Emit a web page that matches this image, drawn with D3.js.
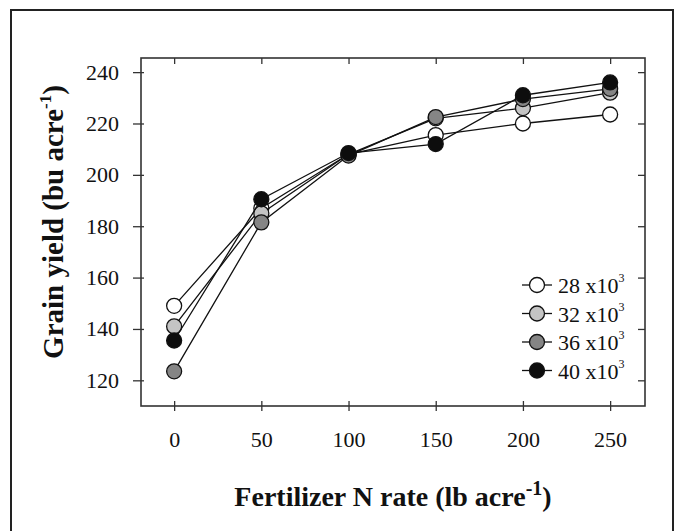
<!DOCTYPE html>
<html>
<head>
<meta charset="utf-8">
<script src="https://cdn.jsdelivr.net/npm/d3@7"></script>
<style>
  html, body { margin: 0; padding: 0; background: #fff; }
  svg { display: block; }
  text { font-family: "Liberation Serif", "Times New Roman", serif; fill: #111; }
</style>
</head>
<body>
<svg id="chart" width="679" height="531"></svg>
<script>
// ---- data ----
const nRates = [0, 50, 100, 150, 200, 250];
const seriesNames = ["28", "32", "36", "40"];
const yield28 = [149, 187, 208, 215.5, 220, 223.5];
const yield32 = [141, 185, 208, 222, 226, 232];
const yield36 = [123.5, 181.5, 207.5, 222.5, 229.5, 233.5];
const yield40 = [135.5, 190.5, 208.5, 212, 231, 236];
const seriesFills = ["#ffffff", "#c4c4c4", "#858585", "#0d0d0d"];
const xTicks = [0, 50, 100, 150, 200, 250];
const yTicks = [120, 140, 160, 180, 200, 220, 240];

const series = [yield28, yield32, yield36, yield40].map((vals, i) => ({
  name: seriesNames[i], fill: seriesFills[i],
  points: vals.map((v, j) => ({ x: nRates[j], y: v }))
}));

const svg = d3.select("#chart");

// outer frame
svg.append("rect").attr("x", 11).attr("y", 10).attr("width", 662).attr("height", 540)
  .attr("fill", "none").attr("stroke", "#222").attr("stroke-width", 2);

const L = 141, R = 645, T = 58, B = 406;
const x = d3.scaleLinear().domain([-19, 270]).range([L, R]);
const y = d3.scaleLinear().domain([110, 245.5]).range([B, T]);

// axes
const axStroke = "#333";
const gBottom = svg.append("g").attr("transform", `translate(0,${B})`)
  .call(d3.axisBottom(x).tickValues(xTicks).tickSize(5).tickPadding(20));
gBottom.selectAll(".tick line").attr("y1", -5);
const gTop = svg.append("g").attr("transform", `translate(0,${T})`)
  .call(d3.axisTop(x).tickValues(xTicks).tickSize(-6).tickFormat(""));
const gLeft = svg.append("g").attr("transform", `translate(${L},0)`)
  .call(d3.axisLeft(y).tickValues(yTicks).tickSize(8).tickPadding(14));
gLeft.selectAll(".tick line").attr("x1", 3);
const gRight = svg.append("g").attr("transform", `translate(${R},0)`)
  .call(d3.axisRight(y).tickValues(yTicks).tickSize(-7).tickFormat(""));

[gBottom, gTop, gLeft, gRight].forEach(g => {
  g.select(".domain").remove();
  g.selectAll(".tick line").attr("stroke", axStroke).attr("stroke-width", 1.3);
  g.selectAll(".tick text").attr("font-size", 22).attr("font-family", "Liberation Serif").attr("fill", "#111");
});
gBottom.selectAll(".tick text").attr("dy", "0.71em");

svg.append("rect").attr("x", L).attr("y", T).attr("width", R - L).attr("height", B - T)
  .attr("fill", "none").attr("stroke", axStroke).attr("stroke-width", 1.6);

// series
const line = d3.line().x(d => x(d.x)).y(d => y(d.y));
series.forEach(s => {
  svg.append("path").datum(s.points).attr("d", line)
    .attr("fill", "none").attr("stroke", "#111").attr("stroke-width", 1.3);
  svg.selectAll(null).data(s.points).enter().append("circle")
    .attr("cx", d => x(d.x)).attr("cy", d => y(d.y)).attr("r", 7.5)
    .attr("fill", s.fill).attr("stroke", "#111").attr("stroke-width", 1.3);
});

// legend
const legY = [285, 313.5, 342, 370.5];
series.forEach((s, i) => {
  const g = svg.append("g").attr("transform", `translate(537,${legY[i]})`);
  g.append("line").attr("x1", -15).attr("x2", 15).attr("stroke", "#111").attr("stroke-width", 1.3);
  g.append("circle").attr("r", 7.5).attr("fill", s.fill).attr("stroke", "#111").attr("stroke-width", 1.3);
  const t = g.append("text").attr("x", 21).attr("y", 8).attr("font-size", 22);
  t.append("tspan").text(s.name + " x10");
  t.append("tspan").attr("font-size", 12).attr("dy", -11).text("3");
});

// axis titles
const xt = svg.append("text").attr("x", 393).attr("y", 506).attr("text-anchor", "middle")
  .attr("font-size", 28).attr("font-weight", "bold");
xt.append("tspan").text("Fertilizer N rate (lb acre");
xt.append("tspan").attr("font-size", 20).attr("dy", -11).text("-1");
xt.append("tspan").attr("dy", 11).text(")");

const yt = svg.append("text").attr("transform", "translate(63,222) rotate(-90)")
  .attr("text-anchor", "middle").attr("font-size", 29).attr("font-weight", "bold");
yt.append("tspan").text("Grain yield (bu acre");
yt.append("tspan").attr("font-size", 17).attr("dy", -12).text("-1");
yt.append("tspan").attr("dy", 12).text(")");
</script>
</body>
</html>
